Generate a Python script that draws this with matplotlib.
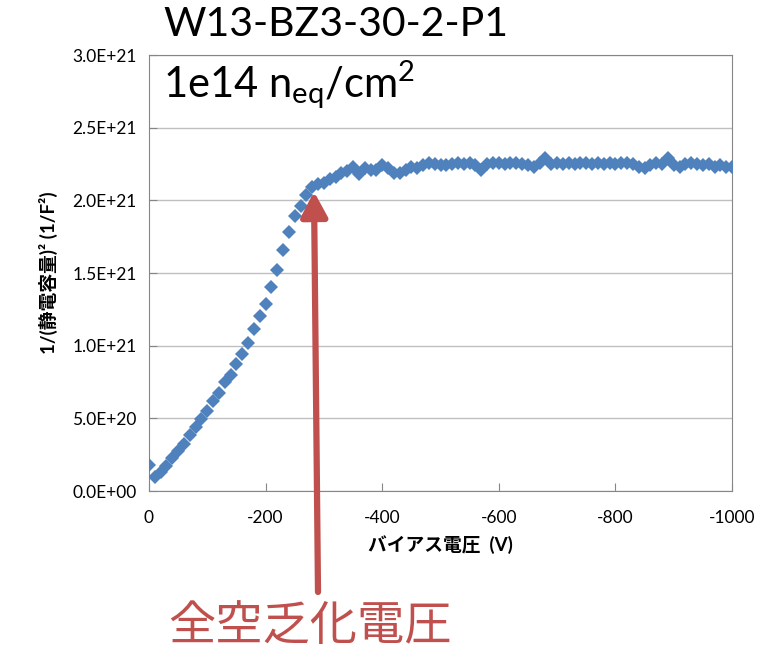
import numpy as np
import matplotlib
matplotlib.use("Agg")
import matplotlib.pyplot as plt

plt.rcParams['font.family'] = ['Lato', 'Noto Sans CJK JP', 'DejaVu Sans']
plt.rcParams['axes.unicode_minus'] = False
plt.rcParams['mathtext.fontset'] = 'custom'
plt.rcParams['mathtext.rm'] = 'Lato'
plt.rcParams['mathtext.it'] = 'Lato:italic'

# bias voltage (V) and 1/C^2 (units of 1E21 1/F^2)
voltage = np.arange(0, -1001, -10)
inv_c2 = [0.18, 0.095, 0.13, 0.175, 0.225, 0.278, 0.322, 0.385, 0.437, 0.497,
          0.553, 0.616, 0.674, 0.748, 0.80, 0.874, 0.945, 1.02, 1.115, 1.207,
          1.29, 1.405, 1.52, 1.66, 1.78, 1.89, 1.96, 2.04, 2.09, 2.11,
          2.12, 2.15, 2.16, 2.19, 2.20, 2.23, 2.18, 2.22, 2.21, 2.21,
          2.24, 2.22, 2.19, 2.19, 2.21, 2.23, 2.22, 2.24, 2.26, 2.25,
          2.24, 2.24, 2.25, 2.26, 2.25, 2.26, 2.24, 2.21, 2.25, 2.26,
          2.26, 2.25, 2.26, 2.26, 2.25, 2.24, 2.23, 2.26, 2.29, 2.25,
          2.26, 2.25, 2.26, 2.25, 2.26, 2.26, 2.25, 2.26, 2.25, 2.26,
          2.25, 2.26, 2.26, 2.25, 2.23, 2.22, 2.24, 2.26, 2.25, 2.29,
          2.24, 2.23, 2.25, 2.26, 2.25, 2.24, 2.25, 2.23, 2.24, 2.23,
          2.23]
inv_c2 = np.array(inv_c2) * 1e21

xticks = [0, -200, -400, -600, -800, -1000]
xticklabels = ["0", "-200", "-400", "-600", "-800", "-1000"]
yticks = [0, 0.5e21, 1.0e21, 1.5e21, 2.0e21, 2.5e21, 3.0e21]
yticklabels = ["0.0E+00", "5.0E+20", "1.0E+21", "1.5E+21", "2.0E+21", "2.5E+21", "3.0E+21"]

blue = "#4F81BD"
red = "#C0504D"

fig = plt.figure(figsize=(7.67, 6.53), dpi=100)
ax = fig.add_axes([149/767, 1-491/653, 583/767, 436/653])

ax.plot(voltage, inv_c2, linestyle="none", marker="D", markersize=7.5,
        color=blue, markeredgewidth=0, zorder=3)

ax.set_xlim(0, -1000)
ax.set_ylim(0, 3.0e21)
ax.set_xticks(xticks)
ax.set_xticklabels(xticklabels, fontsize=12.5)
ax.set_yticks(yticks)
ax.set_yticklabels(yticklabels, fontsize=12.5)
ax.tick_params(direction="in", length=6, color="#868686", pad=9)
ax.tick_params(axis="x", pad=14)
ax.yaxis.grid(True, color="#BFBFBF", linewidth=1)
ax.set_axisbelow(True)
for s in ax.spines.values():
    s.set_color("#868686")

ax.set_xlabel("バイアス電圧  (V)", fontsize=13.5, fontweight="bold", labelpad=6)
ax.set_ylabel("1/(静電容量)² (1/F²)", fontsize=13.5, fontweight="bold", labelpad=10)

fig.text(163/767, 1-6/653, "W13-BZ3-30-2-P1", fontsize=29.5, va="top", ha="left")
fig.text(163/767, 1-58/653, r"1e14 n$_\mathrm{eq}$/cm$^2$", fontsize=30, va="top", ha="left")

# full depletion voltage arrow
ax.annotate("", xy=(-283, 2.06e21), xycoords="data",
            xytext=(318/767, 1-592/653), textcoords="figure fraction",
            arrowprops=dict(arrowstyle="-|>,head_length=1.5,head_width=0.8",
                            color=red, linewidth=4.5, shrinkA=0, shrinkB=0),
            annotation_clip=False)
fig.text(168/767, 1-604/653, "全空乏化電圧", fontsize=34, color=red, va="top", ha="left")

fig.savefig("out.png", dpi=100)
